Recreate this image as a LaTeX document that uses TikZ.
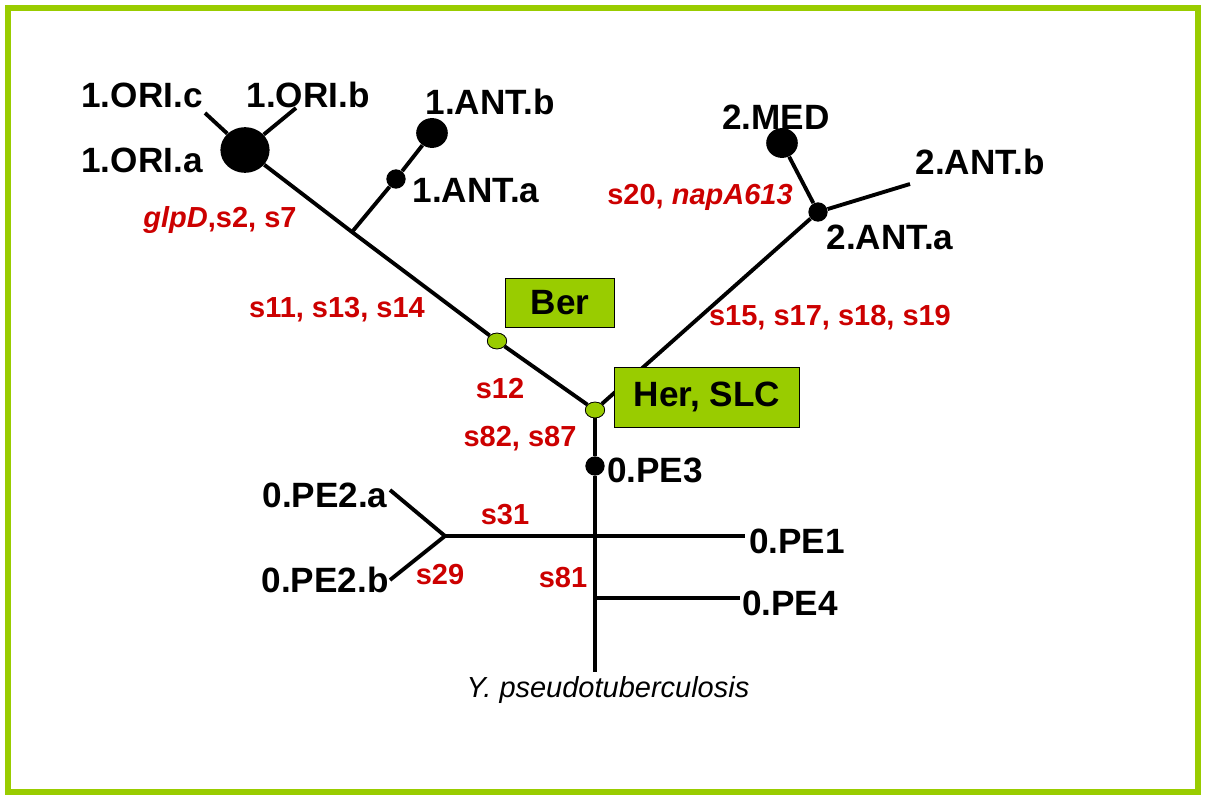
\documentclass[tikz,border=0pt]{standalone}
\usepackage{fontspec}
\setmainfont{Liberation Sans}
\usetikzlibrary{positioning,shapes.geometric}
\definecolor{leaf}{RGB}{153,204,0}
\definecolor{snp}{RGB}{204,0,0}
\begin{document}
\begin{tikzpicture}[x=0.02cm, y=-0.02cm]
      \tikzset{
	  branch/.style={line width=2.2pt, black},
	  strain/.style={font=\bfseries\fontsize{20}{22}\selectfont, text=black},
	  mut/.style={font=\bfseries\fontsize{16.5}{18}\selectfont, text=snp},
	  popbox/.style={rectangle, draw=black, fill=leaf, font=\bfseries\fontsize{20}{22}\selectfont},
	  bignode/.style={ellipse, fill=black, inner sep=0pt},
	  dot/.style={circle, fill=black, inner sep=0pt, minimum size=11pt},
	  gdot/.style={ellipse, draw=black, fill=leaf, inner sep=0pt, minimum width=11pt, minimum height=9pt}
      }
      \useasboundingbox (0,0) rectangle (1206,800);
      \draw[leaf, line width=3pt] (8,8) rectangle (1198,792);

      % tree nodes
      \coordinate (root) at (595,672);
      \coordinate (pe1) at (745,536);
      \coordinate (pe4) at (740,598);
      \coordinate (x31) at (595,536);
      \coordinate (x81) at (595,598);
      \coordinate (pe2) at (445,536);
      \coordinate (pe2a) at (390,490);
      \coordinate (pe2b) at (390,580);
      \coordinate (ant) at (352,232);
      \coordinate (oric) at (205,113);
      \coordinate (orib) at (296,108);
      \coordinate (antb2) at (910,184);
      \node[bignode, minimum width=28pt, minimum height=26pt] (oria) at (245,150) {};
      \node[bignode, minimum width=18pt, minimum height=17pt] (antb) at (432,133) {};
      \node[bignode, minimum width=18pt, minimum height=17pt] (med) at (782,143) {};
      \node[dot] (anta) at (396,179) {};
      \node[dot] (anta2) at (818,212) {};
      \node[dot] (pe3) at (595,466) {};
      \node[gdot] (her) at (595,410) {};
      \node[gdot] (ber) at (497,341) {};

      % branches
      \draw[branch] (her) -- (pe3) -- (x31) -- (x81) -- (root);
      \draw[branch] (pe2) -- (pe1);
      \draw[branch] (x81) -- (pe4);
      \draw[branch] (pe2a) -- (pe2) -- (pe2b);
      \draw[branch] (her) -- (ber) -- (ant) -- (oria);
      \draw[branch] (ant) -- (anta) -- (antb);
      \draw[branch] (oric) -- (oria) -- (orib);
      \draw[branch] (her) -- (anta2) -- (antb2);
      \draw[branch] (anta2) -- (med);
      \node[gdot] at (her) {};
      \node[gdot] at (ber) {};

      % labels
      \node[strain] (l-oric) at (142,95) {1.ORI.c};
      \node[strain] (l-orib) at (308,95) {1.ORI.b};
      \node[strain] (l-oria) at (142,160) {1.ORI.a};
      \node[strain] (l-antb) at (490,102) {1.ANT.b};
      \node[strain] (l-anta) at (476,191) {1.ANT.a};
      \node[strain] (l-med) at (776,117) {2.MED};
      \node[strain] (l-antb2) at (980,162) {2.ANT.b};
      \node[strain] (l-anta2) at (890,237) {2.ANT.a};
      \node[strain] (l-pe3) at (655,470) {0.PE3};
      \node[strain] (l-pe1) at (797,541) {0.PE1};
      \node[strain] (l-pe4) at (790,603) {0.PE4};
      \node[strain] (l-pe2a) at (325,495) {0.PE2.a};
      \node[strain] (l-pe2b) at (325,580) {0.PE2.b};
      \node[font=\itshape\fontsize{16.5}{18}\selectfont] (l-root) at (608,690) {Y. pseudotuberculosis};
      \node[popbox, minimum width=62pt, minimum height=28pt] (l-ber) at (560,303) {Ber};
      \node[popbox, minimum width=105pt, minimum height=34pt] (l-her) at (707,397) {Her, SLC};

      \node[mut] (m1) at (220,220) {\textit{glpD},s2, s7};
      \node[mut] (m2) at (337,310) {s11, s13, s14};
      \node[mut] (m3) at (500,389) {s12};
      \node[mut] (m4) at (520,439) {s82, s87};
      \node[mut] (m5) at (505,515) {s31};
      \node[mut] (m6) at (440,575) {s29};
      \node[mut] (m7) at (563,578) {s81};
      \node[mut] (m8) at (830,318) {s15, s17, s18, s19};
      \node[mut] (m9) at (700,197) {s20, \textit{napA613}};
\end{tikzpicture}
\end{document}
